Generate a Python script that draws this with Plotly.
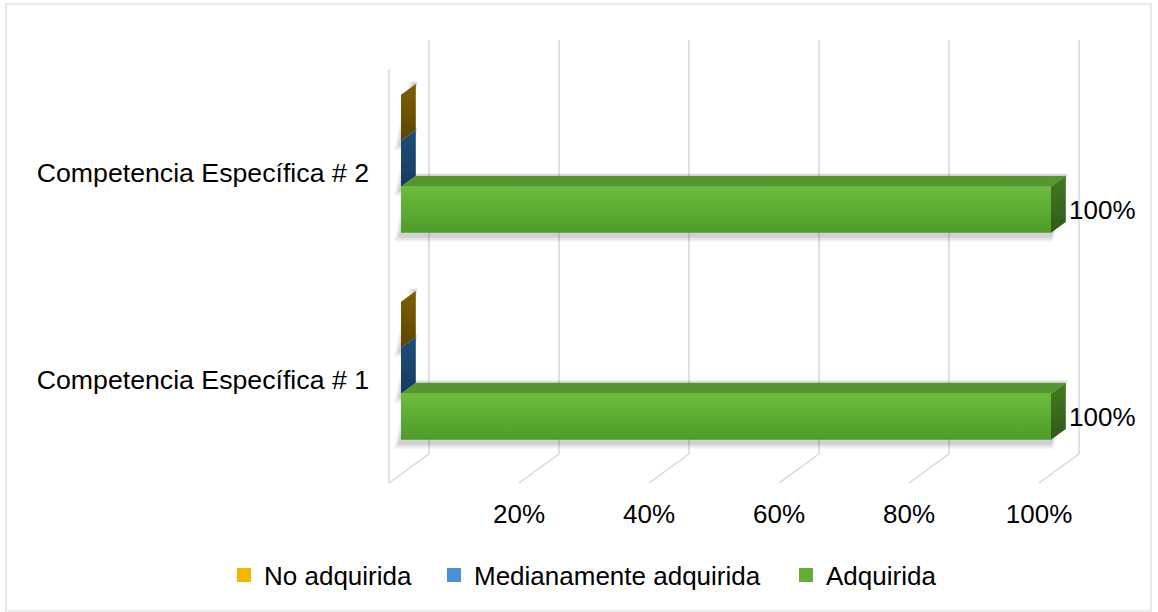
import plotly.graph_objects as go

# ---------------- data ----------------
categories = ["Competencia Específica # 1", "Competencia Específica # 2"]
series_names = ["No adquirida", "Medianamente adquirida", "Adquirida"]
no_adquirida = [0, 0]
medianamente_adquirida = [0, 0]
adquirida = [100, 100]
x_tick_vals = [20, 40, 60, 80, 100]
x_tick_labels = ["20%", "40%", "60%", "80%", "100%"]
grid_vals = [0, 20, 40, 60, 80, 100]

# ---------------- geometry / style ----------------
W, H = 1158, 612
ML, MR, MT, MB = 380, 8, 30, 122
PX_X = 6.5        # px per percent
X0_PX = 389       # px position of 0% on front plane
Y_TOP_PX = 69     # px of top of category band (front plane)
PX_Y = 207        # px per category
DEPTH = (40, -29) # px offset from front to back wall
dx = DEPTH[0] / PX_X
dy = -DEPTH[1] / PX_Y
F1, F2 = 0.30, 0.67   # bar depth (front, back) as fraction
GAP = 1.5
slot = 1.0 / (3 + GAP)
FS = 26

x_range = [(ML - X0_PX) / PX_X, (W - MR - X0_PX) / PX_X]
y_range = [1.5 - (H - MB - Y_TOP_PX) / PX_Y, 1.5 - (MT - Y_TOP_PX) / PX_Y]

FONT = "Liberation Sans, Arial, sans-serif"
GRID = "#d3d7e0"

styles = {
    "No adquirida": dict(front=("#ffc000", "#d9a000"), top="#b38600", end=("#7f6000", "#5c4500"), legend="#f2b800"),
    "Medianamente adquirida": dict(front=("#5b9bd5", "#3f7fbf"), top="#2e6399", end=("#1f4e79", "#173b5c"), legend="#4a90d9"),
    "Adquirida": dict(front=("#6cbd3c", "#4f9a2a"), top="#56962f", end=("#437a22", "#2f5a17"), legend="#62ae37"),
}

fig = go.Figure()


def P(x, y, f):
    return x + f * dx, y + f * dy


def poly(points, color, grad=None):
    xs = [p[0] for p in points] + [points[0][0]]
    ys = [p[1] for p in points] + [points[0][1]]
    kw = dict(x=xs, y=ys, mode="lines", fill="toself", line=dict(width=0, color=color),
              hoverinfo="skip", showlegend=False)
    if grad is not None:
        kw["fillgradient"] = dict(type="vertical", colorscale=[[0, grad[1]], [1, grad[0]]])
    else:
        kw["fillcolor"] = color
    fig.add_trace(go.Scatter(**kw))


# gridlines: back wall, floor diagonals, left wall front edge
gx, gy = [], []
for v in grid_vals:
    a = P(v, -0.5, 1); b = P(v, 1.5, 1)
    gx += [a[0], b[0], None]; gy += [a[1], b[1], None]
    c = P(v, -0.5, 0)
    gx += [c[0], a[0], None]; gy += [c[1], a[1], None]
a = P(0, -0.5, 0); b = P(0, 1.5, 0)
gx += [a[0], b[0], None]; gy += [a[1], b[1], None]
fig.add_trace(go.Scatter(x=gx, y=gy, mode="lines", line=dict(color=GRID, width=1.5),
                         hoverinfo="skip", showlegend=False))

series_values = [no_adquirida, medianamente_adquirida, adquirida]

# soft shadows (layered for a blurred look)
for si, (name, vals) in enumerate(zip(series_names, series_values)):
    off = (1 - si) * slot
    for ci, v in enumerate(vals):
        yb = ci + off - slot / 2
        yt = ci + off + slot / 2
        for k, a_ in ((7, 0.05), (5, 0.06), (3, 0.08)):
            sh = k / PX_X
            sv = (k + 2) / PX_Y
            pts = [P(-sh, yb - sv, F1), P(v + sh * 0.3, yb - sv, F1),
                   P(v + sh * 0.3, yt + sv * 0.3, F2), P(-sh, yt + sv * 0.3, F2)]
            poly(pts, f"rgba(0,0,0,{a_})")

# bars
for si, (name, vals) in enumerate(zip(series_names, series_values)):
    off = (1 - si) * slot
    st = styles[name]
    for ci, v in enumerate(vals):
        yb = ci + off - slot / 2
        yt = ci + off + slot / 2
        if v > 0:
            poly([P(0, yt, F1), P(v, yt, F1), P(v, yt, F2), P(0, yt, F2)], st["top"])
        poly([P(v, yb, F1), P(v, yt, F1), P(v, yt, F2), P(v, yb, F2)], st["end"][0], st["end"])
        if v > 0:
            poly([P(0, yb, F1), P(v, yb, F1), P(v, yt, F1), P(0, yt, F1)], st["front"][0], st["front"])

# data labels (Adquirida)
off = -slot
lx, ly, lt = [], [], []
for ci, v in enumerate(adquirida):
    x, y = P(v, ci + off, F2)
    lx.append(x + 0.5); ly.append(ci + off + F1 * dy - 0.012); lt.append(f"{v}%")
fig.add_trace(go.Scatter(x=lx, y=ly, mode="text", text=lt, textposition="middle right",
                         textfont=dict(size=FS, color="#000000", family=FONT),
                         hoverinfo="skip", showlegend=False))

pw = W - ML - MR
ph = H - MT - MB

# legend entries, each in its own legend box so spacing matches
legend_keys = ["legend", "legend2", "legend3"]
legend_sym_centers = [244, 454, 806]
for name, lk in zip(series_names, legend_keys):
    fig.add_trace(go.Scatter(x=[None], y=[None], mode="markers", name=name, legend=lk,
                             marker=dict(symbol="square", size=14, color=styles[name]["legend"])))

legend_layout = {}
for lk, cx in zip(legend_keys, legend_sym_centers):
    legend_layout[lk] = dict(orientation="h", x=(cx - 20 - ML) / pw, xanchor="left",
                             y=(H - MB - 575) / ph, yanchor="middle",
                             font=dict(size=FS, family=FONT, color="#000000"),
                             itemwidth=30, bgcolor="rgba(0,0,0,0)", borderwidth=0)

fig.add_shape(type="rect", xref="paper", yref="paper",
              x0=(6 - ML) / pw, x1=(1151 - ML) / pw,
              y0=(H - MB - 611) / ph, y1=(H - MB - 4) / ph,
              line=dict(color="#d9d9d9", width=1.2), layer="below")

fig.update_layout(
    width=W, height=H,
    margin=dict(l=ML, r=MR, t=MT, b=MB),
    paper_bgcolor="white", plot_bgcolor="white",
    font=dict(family=FONT, size=FS, color="#000000"),
    xaxis=dict(range=x_range, showgrid=False, zeroline=False, showline=False,
               tickmode="array", tickvals=x_tick_vals, ticktext=x_tick_labels,
               ticks="", ticklabelstandoff=6, tickfont=dict(size=FS)),
    yaxis=dict(range=y_range, showgrid=False, zeroline=False, showline=False,
               tickmode="array", tickvals=[0, 1], ticktext=categories,
               ticks="", ticklabelstandoff=10, tickfont=dict(size=26.7)),
    showlegend=True,
    hovermode=False,
    **legend_layout,
)

fig.write_html("out.html", config={"displayModeBar": False},
               post_script="document.body.style.margin='0';document.body.style.overflow='hidden';")
